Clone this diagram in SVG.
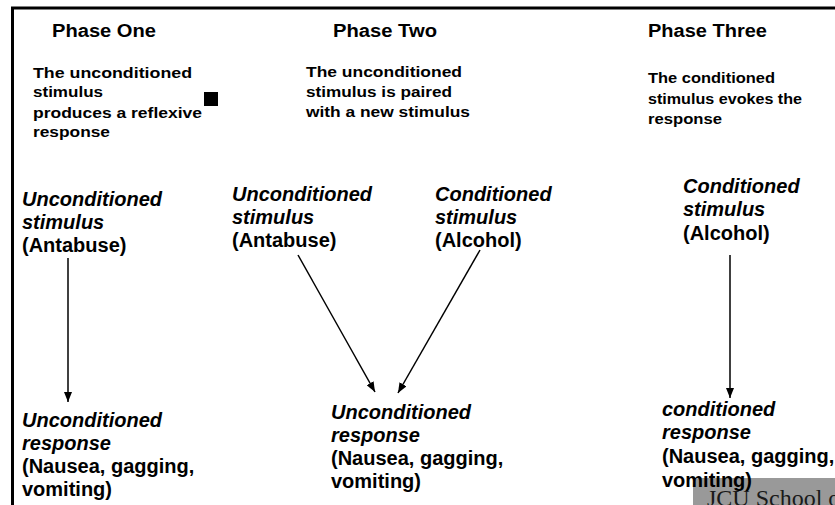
<svg xmlns="http://www.w3.org/2000/svg" width="835" height="505" viewBox="0 0 835 505">
<style>
text{font-family:"Liberation Sans",Arial,sans-serif;font-weight:bold;fill:#000}
.h{font-size:18px}
.d{font-size:15.5px}
.n{font-size:20px}
.i{font-style:italic}
.conn line{stroke:#000;stroke-width:1.5;fill:none}
.foot{font-family:"Liberation Serif","Times New Roman",serif;font-weight:normal;font-size:24px;fill:#1a1a1a}
</style>
<defs>
<marker id="ah" viewBox="0 0 10 8" refX="10" refY="4" markerWidth="10" markerHeight="8" markerUnits="userSpaceOnUse" orient="auto">
<path d="M0,0 L10,4 L0,8 Z" fill="#000"/>
</marker>
</defs>
<rect width="835" height="505" fill="#fff"/>
<g id="frame">
<line x1="11" y1="8" x2="835" y2="8" stroke="#000" stroke-width="3"/>
<line x1="12.5" y1="7" x2="12.5" y2="505" stroke="#000" stroke-width="3"/>
</g>
<g id="phase-one-header">
<text class="h" x="52" y="37" textLength="104" lengthAdjust="spacingAndGlyphs">Phase One</text>
<text class="d" x="33" y="78" textLength="159" lengthAdjust="spacingAndGlyphs">The unconditioned</text>
<text class="d" x="33" y="97" textLength="70" lengthAdjust="spacingAndGlyphs">stimulus</text>
<text class="d" x="33" y="118" textLength="169" lengthAdjust="spacingAndGlyphs">produces a reflexive</text>
<text class="d" x="33" y="137" textLength="77" lengthAdjust="spacingAndGlyphs">response</text>
<rect x="204" y="92" width="14" height="14" fill="#000"/>
</g>
<g id="phase-two-header">
<text class="h" x="333" y="37" textLength="104" lengthAdjust="spacingAndGlyphs">Phase Two</text>
<text class="d" x="306" y="77" textLength="156" lengthAdjust="spacingAndGlyphs">The unconditioned</text>
<text class="d" x="306" y="97" textLength="146" lengthAdjust="spacingAndGlyphs">stimulus is paired</text>
<text class="d" x="306" y="117" textLength="164" lengthAdjust="spacingAndGlyphs">with a new stimulus</text>
</g>
<g id="phase-three-header">
<text class="h" x="648" y="37" textLength="119" lengthAdjust="spacingAndGlyphs">Phase Three</text>
<text class="d" x="648" y="83" textLength="127" lengthAdjust="spacingAndGlyphs">The conditioned</text>
<text class="d" x="648" y="104" textLength="154" lengthAdjust="spacingAndGlyphs">stimulus evokes the</text>
<text class="d" x="648" y="124" textLength="74" lengthAdjust="spacingAndGlyphs">response</text>
</g>
<g id="p1-ucs">
<text class="n i" x="22" y="206">Unconditioned</text>
<text class="n i" x="22" y="229">stimulus</text>
<text class="n" x="22" y="252">(Antabuse)</text>
</g>
<g id="p2-ucs">
<text class="n i" x="232" y="201">Unconditioned</text>
<text class="n i" x="232" y="224">stimulus</text>
<text class="n" x="232" y="247">(Antabuse)</text>
</g>
<g id="p2-cs">
<text class="n i" x="435" y="201">Conditioned</text>
<text class="n i" x="435" y="224">stimulus</text>
<text class="n" x="435" y="247">(Alcohol)</text>
</g>
<g id="p3-cs">
<text class="n i" x="683" y="193">Conditioned</text>
<text class="n i" x="683" y="216">stimulus</text>
<text class="n" x="683" y="240">(Alcohol)</text>
</g>
<g id="p1-ur">
<text class="n i" x="22" y="427">Unconditioned</text>
<text class="n i" x="22" y="450">response</text>
<text class="n" x="22" y="473">(Nausea, gagging,</text>
<text class="n" x="22" y="496">vomiting)</text>
</g>
<g id="p2-ur">
<text class="n i" x="331" y="419">Unconditioned</text>
<text class="n i" x="331" y="442">response</text>
<text class="n" x="331" y="465">(Nausea, gagging,</text>
<text class="n" x="331" y="488">vomiting)</text>
</g>
<g id="footer">
<rect x="693" y="478" width="160" height="40" rx="7" fill="#999"/>
<text class="foot" x="707" y="506">JCU School o</text>
</g>
<g id="p3-cr">
<text class="n i" x="662" y="416">conditioned</text>
<text class="n i" x="662" y="439">response</text>
<text class="n" x="662" y="463">(Nausea, gagging,</text>
<text class="n" x="662" y="487">vomiting)</text>
</g>
<g class="conn" id="connectors">
<line x1="68" y1="258" x2="68" y2="402" marker-end="url(#ah)"/>
<line x1="298" y1="255" x2="375" y2="392" marker-end="url(#ah)"/>
<line x1="480" y1="250" x2="398" y2="393" marker-end="url(#ah)"/>
<line x1="730" y1="255" x2="730" y2="398" marker-end="url(#ah)"/>
</g>
</svg>
